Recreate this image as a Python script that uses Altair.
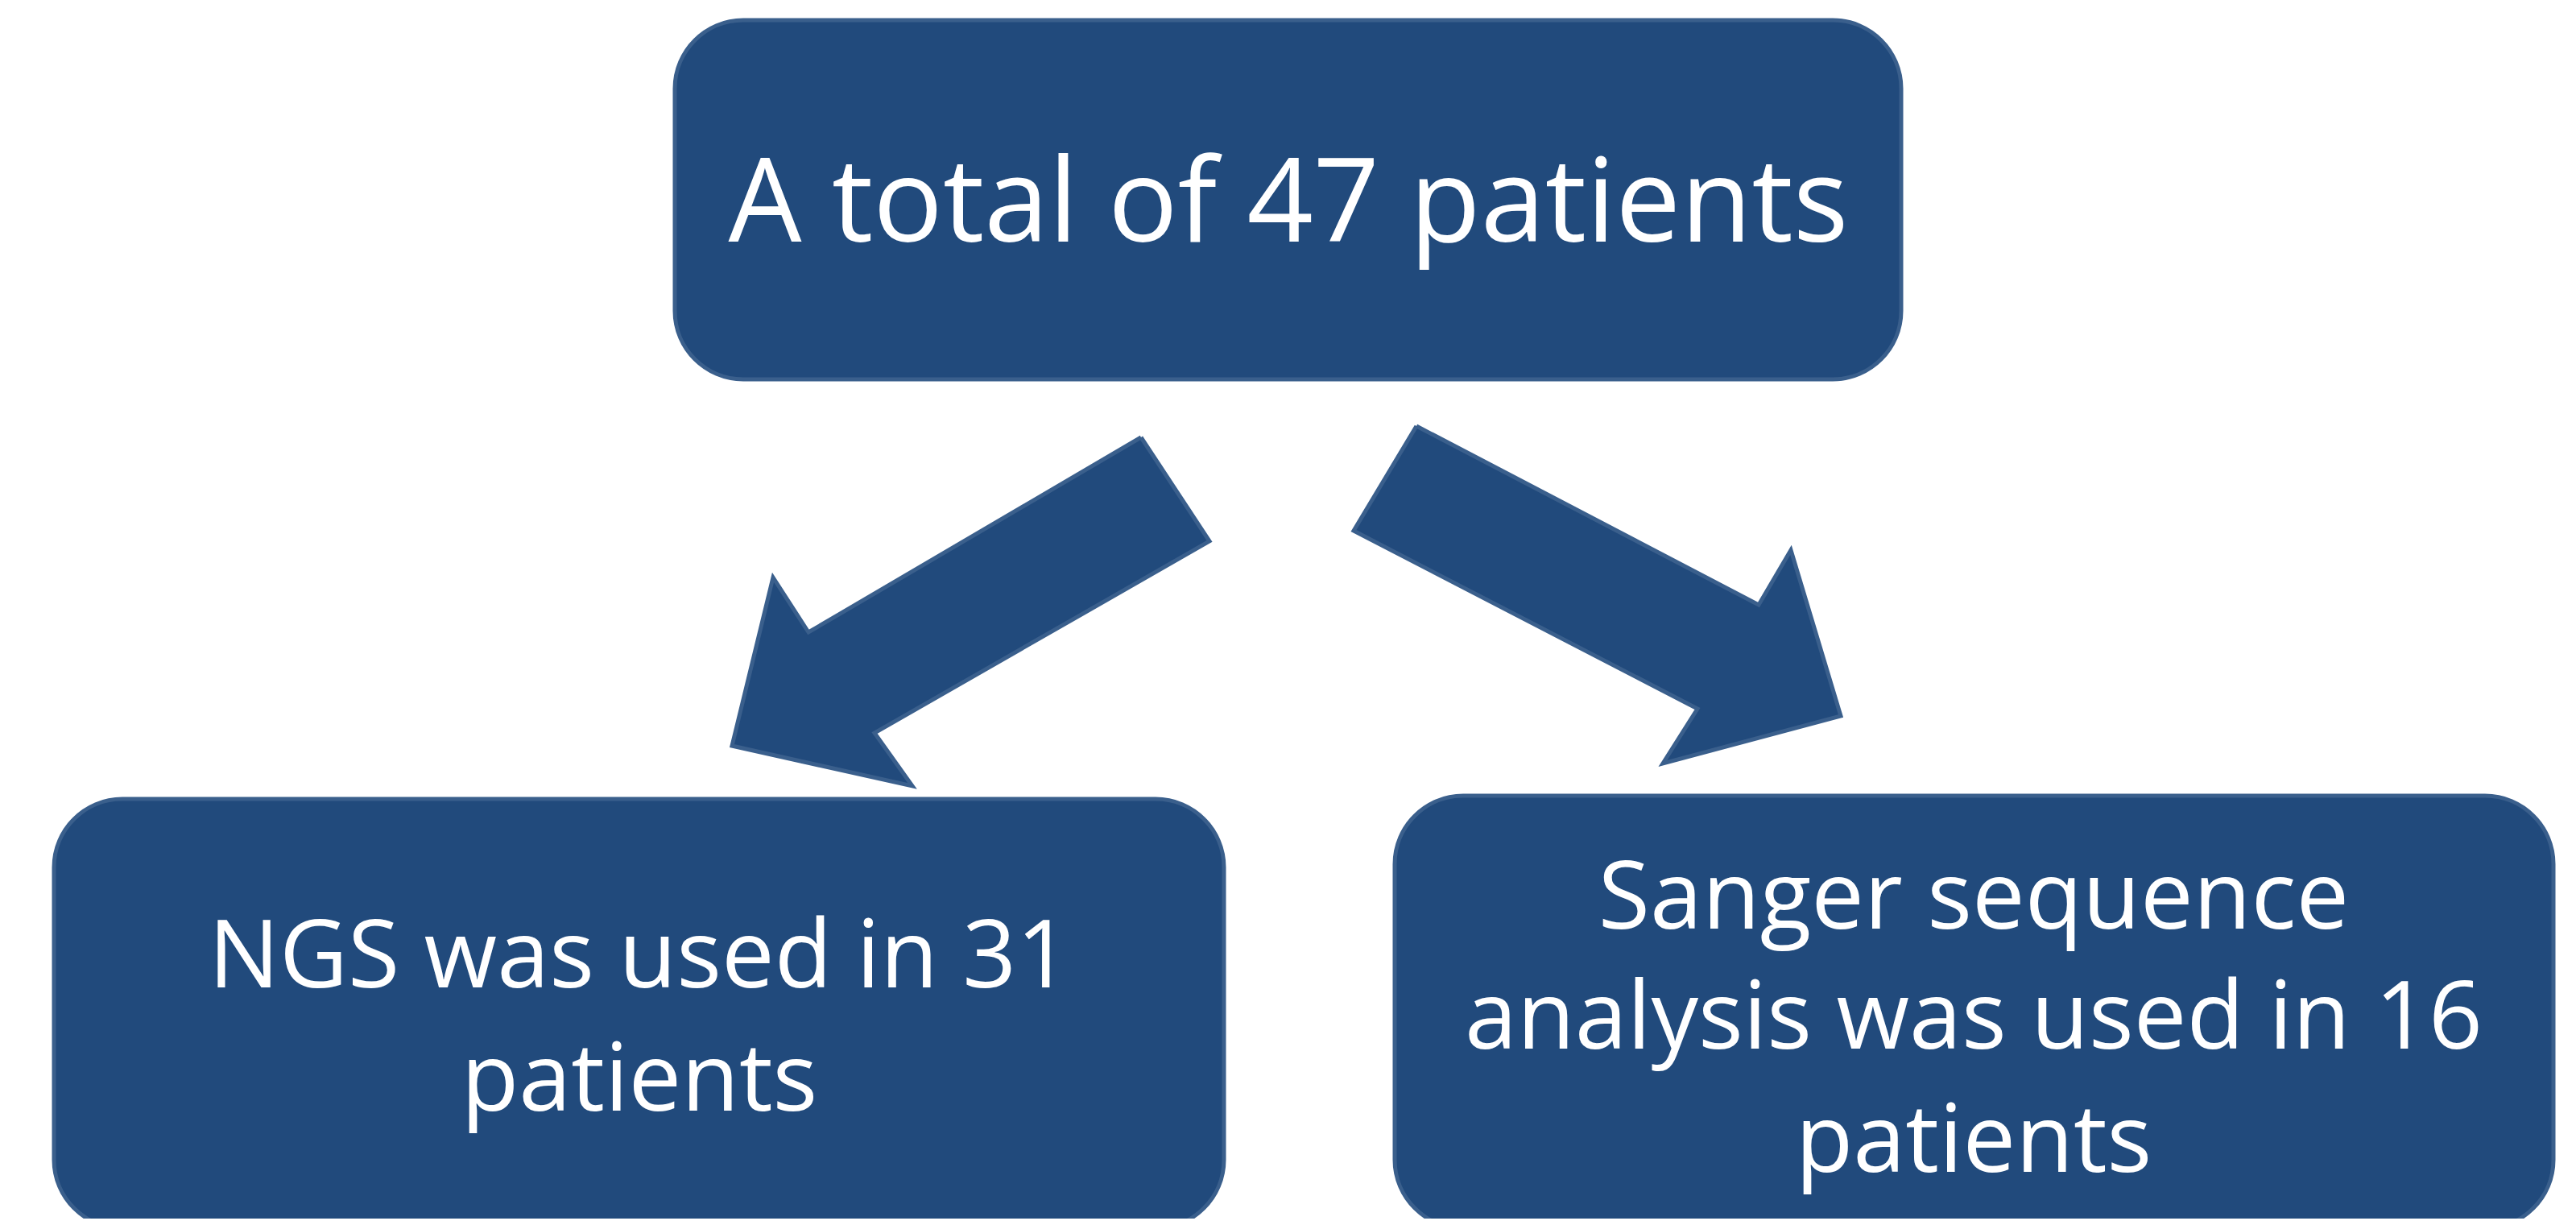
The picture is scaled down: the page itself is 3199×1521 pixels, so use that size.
import altair as alt
import pandas as pd

# Boxes (reference pixel coordinates)
box_name = ["top", "left", "right"]
box_x0 = [838, 67, 1732]
box_x1 = [2361, 1520, 3171]
box_y0 = [25, 992, 988]
box_y1 = [471, 1525, 1525]

# Arrow outlines
left_arrow_x = [1417, 1502, 1086, 1133, 909, 960, 1004, 1417]
left_arrow_y = [543, 672, 910, 976, 926, 717, 785, 543]
right_arrow_x = [1759, 2184, 2224, 2286, 2065, 2108, 1681, 1759]
right_arrow_y = [529, 751, 683, 889, 948, 880, 659, 529]

# Text lines
text_lines = ["A total of 47 patients",
              "NGS was used in 31", "patients",
              "Sanger sequence", "analysis was used in 16", "patients"]
text_x = [1600, 794, 794, 2451, 2451, 2451]
text_y = [300, 1226, 1379, 1153, 1302, 1455]
text_size = [144, 117, 117, 117, 117, 117]

FILL = "#214A7C"
EDGE = "#3A5F8C"

boxes = pd.DataFrame({"name": box_name, "x0": box_x0, "x1": box_x1, "y0": box_y0, "y1": box_y1})
arrows = pd.DataFrame({
    "arrow": ["L"] * len(left_arrow_x) + ["R"] * len(right_arrow_x),
    "i": list(range(len(left_arrow_x))) + list(range(len(right_arrow_x))),
    "x": left_arrow_x + right_arrow_x,
    "y": left_arrow_y + right_arrow_y,
})
texts = pd.DataFrame({"t": text_lines, "x": text_x, "y": text_y, "s": text_size})

W, H = 3183, 1505
xs = alt.Scale(domain=[8, 8 + W], nice=False, zero=False)
ys = alt.Scale(domain=[8, 8 + H], nice=False, zero=False, reverse=True)

box_layer = alt.Chart(boxes).mark_rect(
    cornerRadius=85, fill=FILL, stroke=EDGE, strokeWidth=5, clip=True
).encode(
    x=alt.X("x0:Q", scale=xs, axis=None),
    x2="x1:Q",
    y=alt.Y("y0:Q", scale=ys, axis=None),
    y2="y1:Q",
)

arrow_layer = alt.Chart(arrows).mark_line(
    fill=FILL, stroke=EDGE, strokeWidth=5, strokeJoin="miter", clip=True
).encode(
    x=alt.X("x:Q", scale=xs, axis=None),
    y=alt.Y("y:Q", scale=ys, axis=None),
    detail="arrow:N",
    order="i:Q",
)

text_layer = alt.Chart(texts).mark_text(
    font="Open Sans", color="white", align="center", baseline="alphabetic"
).encode(
    x=alt.X("x:Q", scale=xs, axis=None),
    y=alt.Y("y:Q", scale=ys, axis=None),
    text="t:N",
    size=alt.Size("s:Q", scale=None, legend=None),
)

chart = alt.layer(box_layer, arrow_layer, text_layer).properties(
    width=W, height=H, padding=0, autosize="none", background="white"
).configure_view(stroke=None)

chart.save("out.html", embed_options={"renderer": "svg", "actions": False})
